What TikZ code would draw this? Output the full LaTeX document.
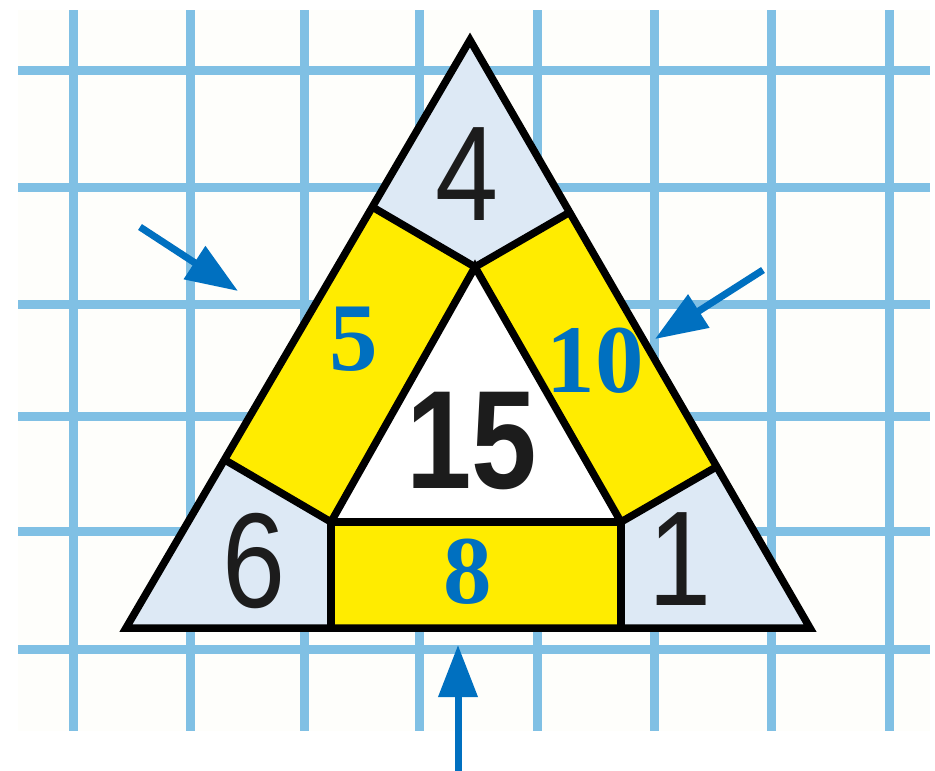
\documentclass[tikz,border=0pt]{standalone}
\usepackage{fontspec}
\setmainfont{Liberation Sans}
\newfontfamily\condsans{Liberation Sans}[FakeStretch=0.84]
\newfontfamily\numserif{Liberation Serif}
\usetikzlibrary{arrows.meta,calc}
\definecolor{gridblue}{RGB}{128,192,228}
\definecolor{paper}{RGB}{254,254,251}
\definecolor{cellblue}{RGB}{221,233,245}
\definecolor{bandyellow}{RGB}{255,236,0}
\definecolor{markblue}{RGB}{0,112,192}
\definecolor{inkblack}{RGB}{28,28,28}
\begin{document}
\begin{tikzpicture}[x=1pt,y=-1pt,
  gridline/.style={gridblue, line width=9pt},
  outline/.style={black, line width=7.5pt, line join=miter},
  pointer/.style={markblue, line width=7pt, -{Triangle[length=52pt,width=38pt]}},
  blackdigit/.style={font=\condsans\fontsize{135}{135}\selectfont, text=inkblack, inner sep=0pt, anchor=base},
  bolddigit/.style={font=\condsans\bfseries\fontsize{140}{140}\selectfont, text=inkblack, inner sep=0pt, anchor=base},
  bluedigit/.style={font=\numserif\bfseries\fontsize{97}{97}\selectfont, text=markblue, inner sep=0pt, anchor=base}]
\useasboundingbox (0,0) rectangle (935,771);
\fill[white] (0,0) rectangle (935,771);
\fill[paper] (18,10) rectangle (930,731);
\foreach \x in {73,190,304,419,537,654,771,889} \draw[gridline] (\x,10) -- (\x,731);
\foreach \y in {70,187,304,416,531,649} \draw[gridline] (18,\y) -- (930,\y);
% key points
\coordinate (T) at (470,40);
\coordinate (BL) at (126,628);
\coordinate (BR) at (810,628);
\coordinate (P) at (475,267);
\coordinate (Q) at (331,522);
\coordinate (R) at (621,522);
\coordinate (Qb) at (331,628);
\coordinate (Rb) at (621,628);
\coordinate (A) at ($(BL)!(P)!(T)$);
\coordinate (B) at ($(BL)!(Q)!(T)$);
\coordinate (C) at ($(BR)!(P)!(T)$);
\coordinate (D) at ($(BR)!(R)!(T)$);
% fills
\fill[cellblue] (T) -- (A) -- (P) -- (C) -- cycle;
\fill[bandyellow] (A) -- (P) -- (Q) -- (B) -- cycle;
\fill[bandyellow] (C) -- (P) -- (R) -- (D) -- cycle;
\fill[white] (P) -- (Q) -- (R) -- cycle;
\fill[cellblue] (B) -- (Q) -- (Qb) -- (BL) -- cycle;
\fill[cellblue] (D) -- (R) -- (Rb) -- (BR) -- cycle;
\fill[bandyellow] (Q) rectangle (Rb);
% outlines
\draw[outline] (A) -- (P) -- (C);
\draw[outline] (B) -- (Q) -- (P) -- (R) -- (D);
\draw[outline] (Q) -- (R);
\draw[outline] (Q) -- (Qb);
\draw[outline] (R) -- (Rb);
\draw[outline] (T) -- (BL) -- (BR) -- cycle;
% numbers
\node[blackdigit] (n4) at (467,220) {4};
\node[bolddigit] (n15) at (472,488) {15};
\node[blackdigit] (n6) at (254,607) {6};
\node[blackdigit] (n1) at (680,605) {1};
\node[bluedigit] (n5) at (354,370) {5};
\node[bluedigit] (n10) at (595,392) {10};
\node[bluedigit] (n8) at (468,603) {8};
% arrows
\coordinate (a1s) at (140,227);
\coordinate (a1e) at (238,291);
\coordinate (a2s) at (763,270);
\coordinate (a2e) at (655,339);
\coordinate (a3s) at (458,771);
\coordinate (a3e) at (458,645);
\draw[pointer] (a1s) -- (a1e);
\draw[pointer] (a2s) -- (a2e);
\draw[pointer] (a3s) -- (a3e);
\end{tikzpicture}
\end{document}
